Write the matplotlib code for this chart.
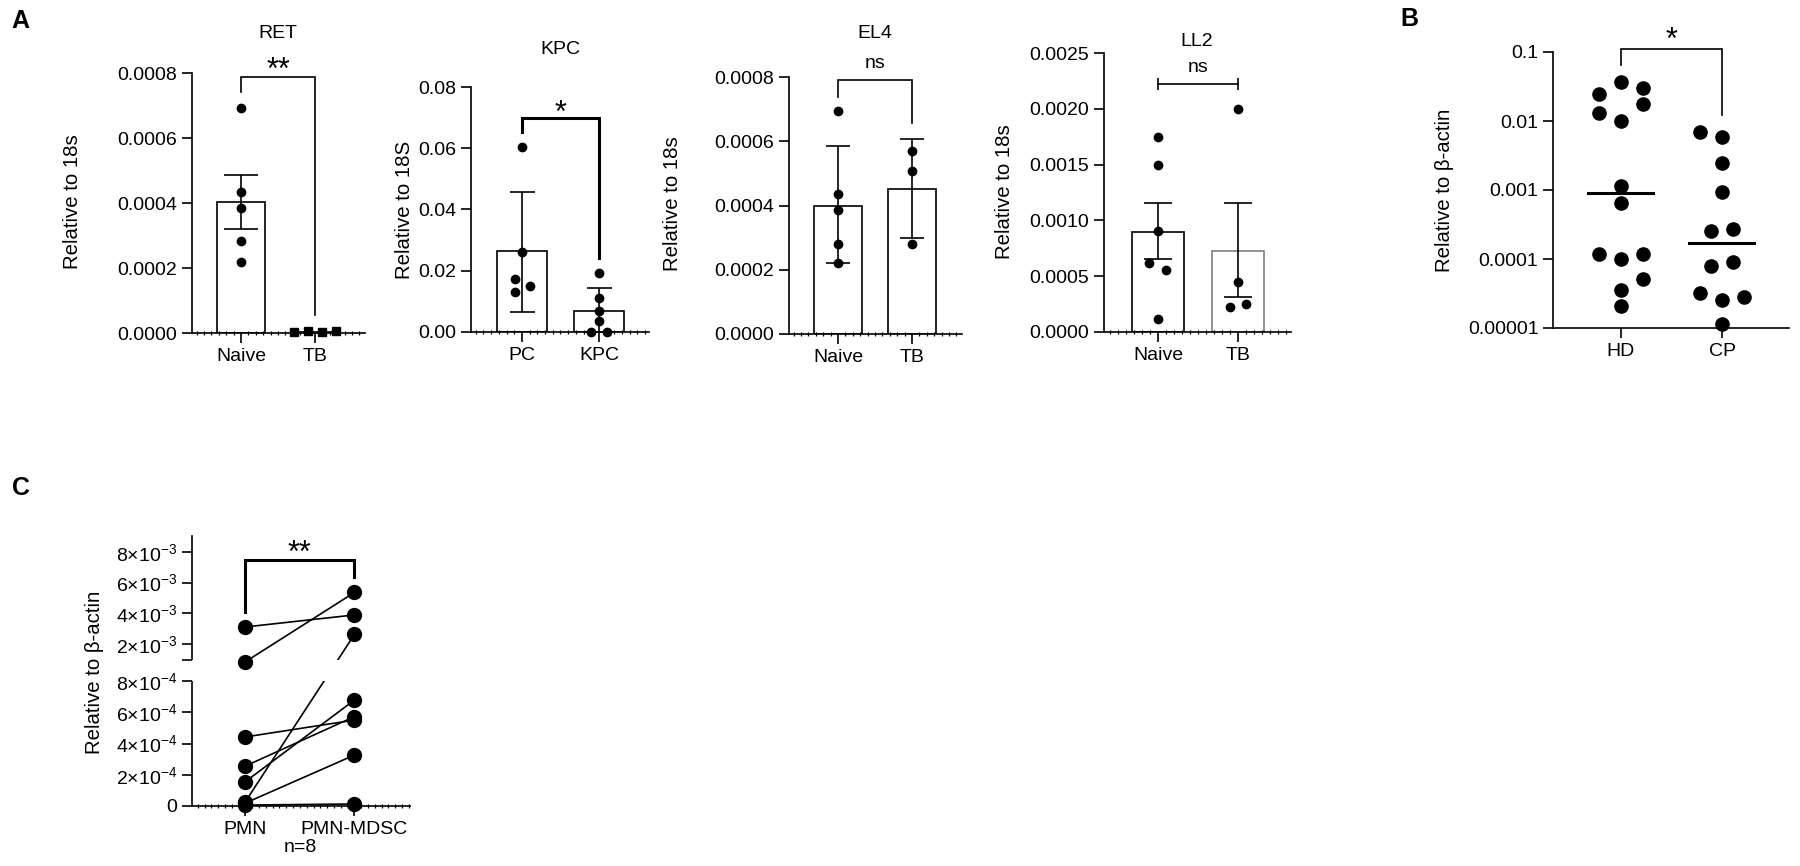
import numpy as np
import matplotlib
matplotlib.use("Agg")
import matplotlib.pyplot as plt
from matplotlib.ticker import MultipleLocator, NullLocator

# ---- data ----
# A: RET
ret_cats = ["Naive", "TB"]
ret_naive = [0.000693, 0.000435, 0.000386, 0.000284, 0.000219]
ret_tb = [0.000003, 0.000006, 0.000002, 0.000005]
ret_mean = [0.000402, 0.000004]
ret_err_lo = [0.000321, None]
ret_err_hi = [0.000486, None]

# A: KPC
kpc_cats = ["PC", "KPC"]
kpc_pc = [0.0603, 0.026, 0.0172, 0.0150, 0.0132]
kpc_kpc = [0.0192, 0.011, 0.0070, 0.0037, 0.0, 0.0]
kpc_mean = [0.0263, 0.0068]
kpc_err_lo = [0.0066, 0.0]
kpc_err_hi = [0.0458, 0.0143]

# A: EL4
el4_cats = ["Naive", "TB"]
el4_naive = [0.000694, 0.000436, 0.000386, 0.00028, 0.00022]
el4_tb = [0.00057, 0.000507, 0.000279]
el4_mean = [0.0004, 0.00045]
el4_err_lo = [0.00022, 0.0003]
el4_err_hi = [0.000586, 0.000606]

# A: LL2
ll2_cats = ["Naive", "TB"]
ll2_naive = [0.00175, 0.0015, 0.000908, 0.000615, 0.000556, 0.000114]
ll2_tb = [0.0020, 0.00045, 0.000227, 0.000251]
ll2_mean = [0.000899, 0.000728]
ll2_err_lo = [0.000657, 0.000311]
ll2_err_hi = [0.00116, 0.00116]

# B
b_cats = ["HD", "CP"]
b_hd = [0.037, 0.0245, 0.0297, 0.0176, 0.0129, 0.0101, 0.00115, 0.00065,
        0.000118, 0.0001, 0.000117, 0.000051, 0.000036, 0.0000205]
b_cp = [0.0070, 0.0058, 0.00244, 0.00093, 0.000258, 0.000276, 0.0000795,
        0.0000896, 0.0000325, 0.0000257, 0.0000283, 0.0000115]
b_median = [0.00089, 0.00017]
b_ticks = [1e-5, 1e-4, 1e-3, 1e-2, 1e-1]
b_ticklabels = ["0.00001", "0.0001", "0.001", "0.01", "0.1"]

# C (paired)
c_cats = ["PMN", "PMN-MDSC"]
c_pmn = [3.12e-3, 9.8e-4, 4.42e-4, 2.56e-4, 1.56e-4, 2.8e-5, 1.9e-5, 6e-6]
c_mdsc = [3.9e-3, 5.36e-3, 5.5e-4, 5.72e-4, 6.78e-4, 2.63e-3, 3.26e-4, 1.3e-5]
c_ticks = [0, 2e-4, 4e-4, 6e-4, 8e-4, 1e-3, 2e-3, 4e-3, 6e-3, 8e-3]
c_ticklabels = ["0", "2×10$^{-4}$", "4×10$^{-4}$", "6×10$^{-4}$", "8×10$^{-4}$", "",
                "2×10$^{-3}$", "4×10$^{-3}$", "6×10$^{-3}$", "8×10$^{-3}$"]

# ---- style ----
plt.rcParams["font.family"] = ["Liberation Sans", "DejaVu Sans"]
plt.rcParams["mathtext.fontset"] = "custom"
plt.rcParams["mathtext.rm"] = "Liberation Sans"
plt.rcParams["mathtext.default"] = "regular"
plt.rcParams["font.size"] = 14
FS = 14
YLAB = 14.7

W, H = 1800, 866
fig = plt.figure(figsize=(W / 100, H / 100), dpi=100)


def rect(l, t, r, b):
    return [l / W, 1 - b / H, (r - l) / W, (b - t) / H]


def ftext(x, y, s, **kw):
    # text placed in figure pixels (from top-left)
    fig.text(x / W, 1 - y / H, s, ha="center", va="center", **kw)


def style_axis(ax, minor=0.1):
    for s in ["top", "right"]:
        ax.spines[s].set_visible(False)
    for s in ["left", "bottom"]:
        ax.spines[s].set_linewidth(1.2)
    ax.tick_params(axis="both", which="major", direction="out", length=7,
                   width=1.2, labelsize=FS)
    if minor:
        ax.xaxis.set_minor_locator(MultipleLocator(minor))
        ax.tick_params(axis="x", which="minor", direction="inout", length=3.5, width=0.9)


def bar_panel(ax, cats, groups, offsets, means, lo, hi, capsize, markers=("o", "o"),
              edges=("black", "black")):
    x = np.arange(len(cats))
    ax.bar(x, means, width=0.65, color="white", edgecolor=list(edges), linewidth=1.2, zorder=1)
    for i in range(len(cats)):
        if lo[i] is not None:
            ax.errorbar(i, means[i], yerr=[[means[i] - lo[i]], [hi[i] - means[i]]], fmt="none",
                        ecolor="black", elinewidth=1.2, capsize=capsize, capthick=1.2, zorder=2)
        ms = 5.5 if markers[i] == "s" else 6
        ax.plot(i + np.array(offsets[i]), groups[i], ls="none", marker=markers[i], ms=ms,
                color="black", zorder=3, clip_on=False)
    ax.set_xticks(x, cats)


def bracket(ax, yl, ytop, yr, lw=1.2):
    ax.plot([0, 0, 1, 1], [yl, ytop, ytop, yr], color="black", lw=lw,
            clip_on=False, solid_joinstyle="miter")


def star(ax, s, y, dy=0, fs=22):
    ax.annotate(s, xy=(0.5, y), xytext=(0, dy), textcoords="offset points",
                ha="center", va="baseline", fontsize=fs, annotation_clip=False)


# ---- A: RET ----
ax = fig.add_axes(rect(192, 73, 365, 333))
style_axis(ax)
bar_panel(ax, ret_cats, [ret_naive, ret_tb], [[0] * 5, [-0.28, -0.095, 0.095, 0.28]],
          ret_mean, ret_err_lo, ret_err_hi, capsize=12.5, markers=("o", "s"))
ax.set_xlim(-0.662, 1.676)
ax.set_ylim(0, 0.0008)
ax.set_yticks(np.arange(0, 0.00081, 0.0002))
ax.yaxis.set_major_formatter(lambda v, p: f"{v:.4f}")
bracket(ax, 0.000742, 0.000789, 0.000055)
star(ax, "**", 0.000789, dy=-1.5)
ftext(278, 33, "RET", fontsize=FS)
ftext(72, 202, "Relative to 18s", rotation=90, fontsize=YLAB)
ftext(20, 21, "A", fontsize=18, fontweight="bold")

# ---- A: KPC ----
ax = fig.add_axes(rect(471, 87, 649, 332))
style_axis(ax)
bar_panel(ax, kpc_cats, [kpc_pc, kpc_kpc], [[0, 0, -0.095, 0.1, -0.095], [0, 0, 0, 0, -0.1, 0.1]],
          kpc_mean, kpc_err_lo, kpc_err_hi, capsize=9)
ax.set_xlim(-0.662, 1.65)
ax.set_ylim(0, 0.08)
ax.set_yticks(np.arange(0, 0.081, 0.02))
ax.yaxis.set_major_formatter(lambda v, p: f"{v:.2f}")
bracket(ax, 0.0653, 0.0699, 0.024, lw=2.2)
star(ax, "*", 0.0699, dy=-3)
ftext(560, 50, "KPC", fontsize=FS)
ftext(405, 210, "Relative to 18S", rotation=90, fontsize=YLAB)

# ---- A: EL4 ----
ax = fig.add_axes(rect(789, 77, 962, 334))
style_axis(ax)
bar_panel(ax, el4_cats, [el4_naive, el4_tb], [[0] * 5, [0] * 3],
          el4_mean, el4_err_lo, el4_err_hi, capsize=8.6)
ax.set_xlim(-0.662, 1.676)
ax.set_ylim(0, 0.0008)
ax.set_yticks(np.arange(0, 0.00081, 0.0002))
ax.yaxis.set_major_formatter(lambda v, p: f"{v:.4f}")
bracket(ax, 0.000739, 0.00079, 0.000656)
star(ax, "ns", 0.00079, dy=9, fs=FS)
ftext(875, 33, "EL4", fontsize=FS)
ftext(672, 204, "Relative to 18s", rotation=90, fontsize=YLAB)

# ---- A: LL2 ----
ax = fig.add_axes(rect(1104, 53, 1291, 332))
style_axis(ax)
bar_panel(ax, ll2_cats, [ll2_naive, ll2_tb], [[0, 0, 0, -0.11, 0.1, 0], [0, 0, -0.1, 0.1]],
          ll2_mean, ll2_err_lo, ll2_err_hi, capsize=10, edges=("black", "#808080"))
ax.set_xlim(-0.675, 1.66)
ax.set_ylim(0, 0.0025)
ax.set_yticks(np.arange(0, 0.00251, 0.0005))
ax.yaxis.set_major_formatter(lambda v, p: f"{v:.4f}")
ax.plot([0, 1], [0.00222, 0.00222], color="black", lw=1.2, marker="|", ms=9, mew=1.2,
        clip_on=False)
star(ax, "ns", 0.00222, dy=9, fs=FS)
ftext(1197, 42, "LL2", fontsize=FS)
ftext(1005, 192, "Relative to 18s", rotation=90, fontsize=YLAB)

# ---- B ----
ax = fig.add_axes(rect(1553, 52, 1789, 328))
style_axis(ax, minor=None)
ax.set_yscale("log")
ax.set_ylim(1e-5, 0.1)
ax.set_xlim(-0.673, 1.663)
hd_off = [0, -0.22, 0.22, 0.22, -0.22, 0, 0, 0, -0.22, 0, 0.22, 0.22, 0, 0]
cp_off = [-0.22, 0, 0, 0, -0.11, 0.11, -0.11, 0.11, -0.22, 0, 0.22, 0]
ax.plot(np.array(hd_off), b_hd, "o", color="black", ms=9.5, clip_on=False, zorder=3)
ax.plot(1 + np.array(cp_off), b_cp, "o", color="black", ms=9.5, clip_on=False, zorder=3)
for i, m in enumerate(b_median):
    ax.plot([i - 0.33, i + 0.32], [m, m], color="black", lw=2.2, zorder=4)
ax.set_yticks(b_ticks, b_ticklabels)
ax.yaxis.set_minor_locator(NullLocator())
ax.set_xticks([0, 1], b_cats)
bracket(ax, 0.065, 0.1106, 0.0122)
star(ax, "*", 0.1106, dy=0)
ftext(1445, 190, "Relative to β-actin", rotation=90, fontsize=YLAB)
ftext(1409, 19, "B", fontsize=18, fontweight="bold")


# ---- C: broken y axis ----
def fwd(v):
    v = np.asarray(v, dtype=float)
    return np.where(v <= 8e-4, v / 8e-4 * 125,
                    np.where(v <= 1e-3, 125 + (v - 8e-4) / 2e-4 * 21.4,
                             146.4 + (v - 1e-3) / 1e-3 * 15.4))


def inv(u):
    u = np.asarray(u, dtype=float)
    return np.where(u <= 125, u / 125 * 8e-4,
                    np.where(u <= 146.4, 8e-4 + (u - 125) / 21.4 * 2e-4,
                             1e-3 + (u - 146.4) / 15.4 * 1e-3))


ax = fig.add_axes(rect(192, 536.4, 410, 806))
style_axis(ax, minor=0.0625)
ax.spines["left"].set_visible(False)
ax.set_yscale("function", functions=(fwd, inv))
ax.set_ylim(0, 9e-3)
ax.set_xlim(-0.49, 1.51)
ax.set_yticks(c_ticks, c_ticklabels)
ax.yaxis.set_minor_locator(NullLocator())
ax.set_xticks([0, 1], c_cats)
yax = ax.get_yaxis_transform()
ax.plot([0, 0], [0, 8e-4], transform=yax, color="black", lw=1.2, clip_on=False)
ax.plot([0, 0], [1e-3, 9e-3], transform=yax, color="black", lw=1.2, clip_on=False)
for a, b in zip(c_pmn, c_mdsc):
    ax.plot([0, 1], [a, b], color="black", lw=1.2, zorder=2)
ax.axhspan(8e-4, 1e-3, color="white", lw=0, zorder=2.5)
ax.plot(np.zeros(len(c_pmn)), c_pmn, "o", color="black", ms=10, clip_on=False, zorder=4)
ax.plot(np.ones(len(c_mdsc)), c_mdsc, "o", color="black", ms=10, clip_on=False, zorder=4)
bracket(ax, 4.1e-3, 7.45e-3, 6.37e-3, lw=2.2)
star(ax, "**", 7.45e-3, dy=-1.5)
ftext(300, 848, "n=8", fontsize=FS)
ftext(94, 672, "Relative to β-actin", rotation=90, fontsize=YLAB)
ftext(21, 488, "C", fontsize=18, fontweight="bold")

plt.savefig("out.png", dpi=100)
